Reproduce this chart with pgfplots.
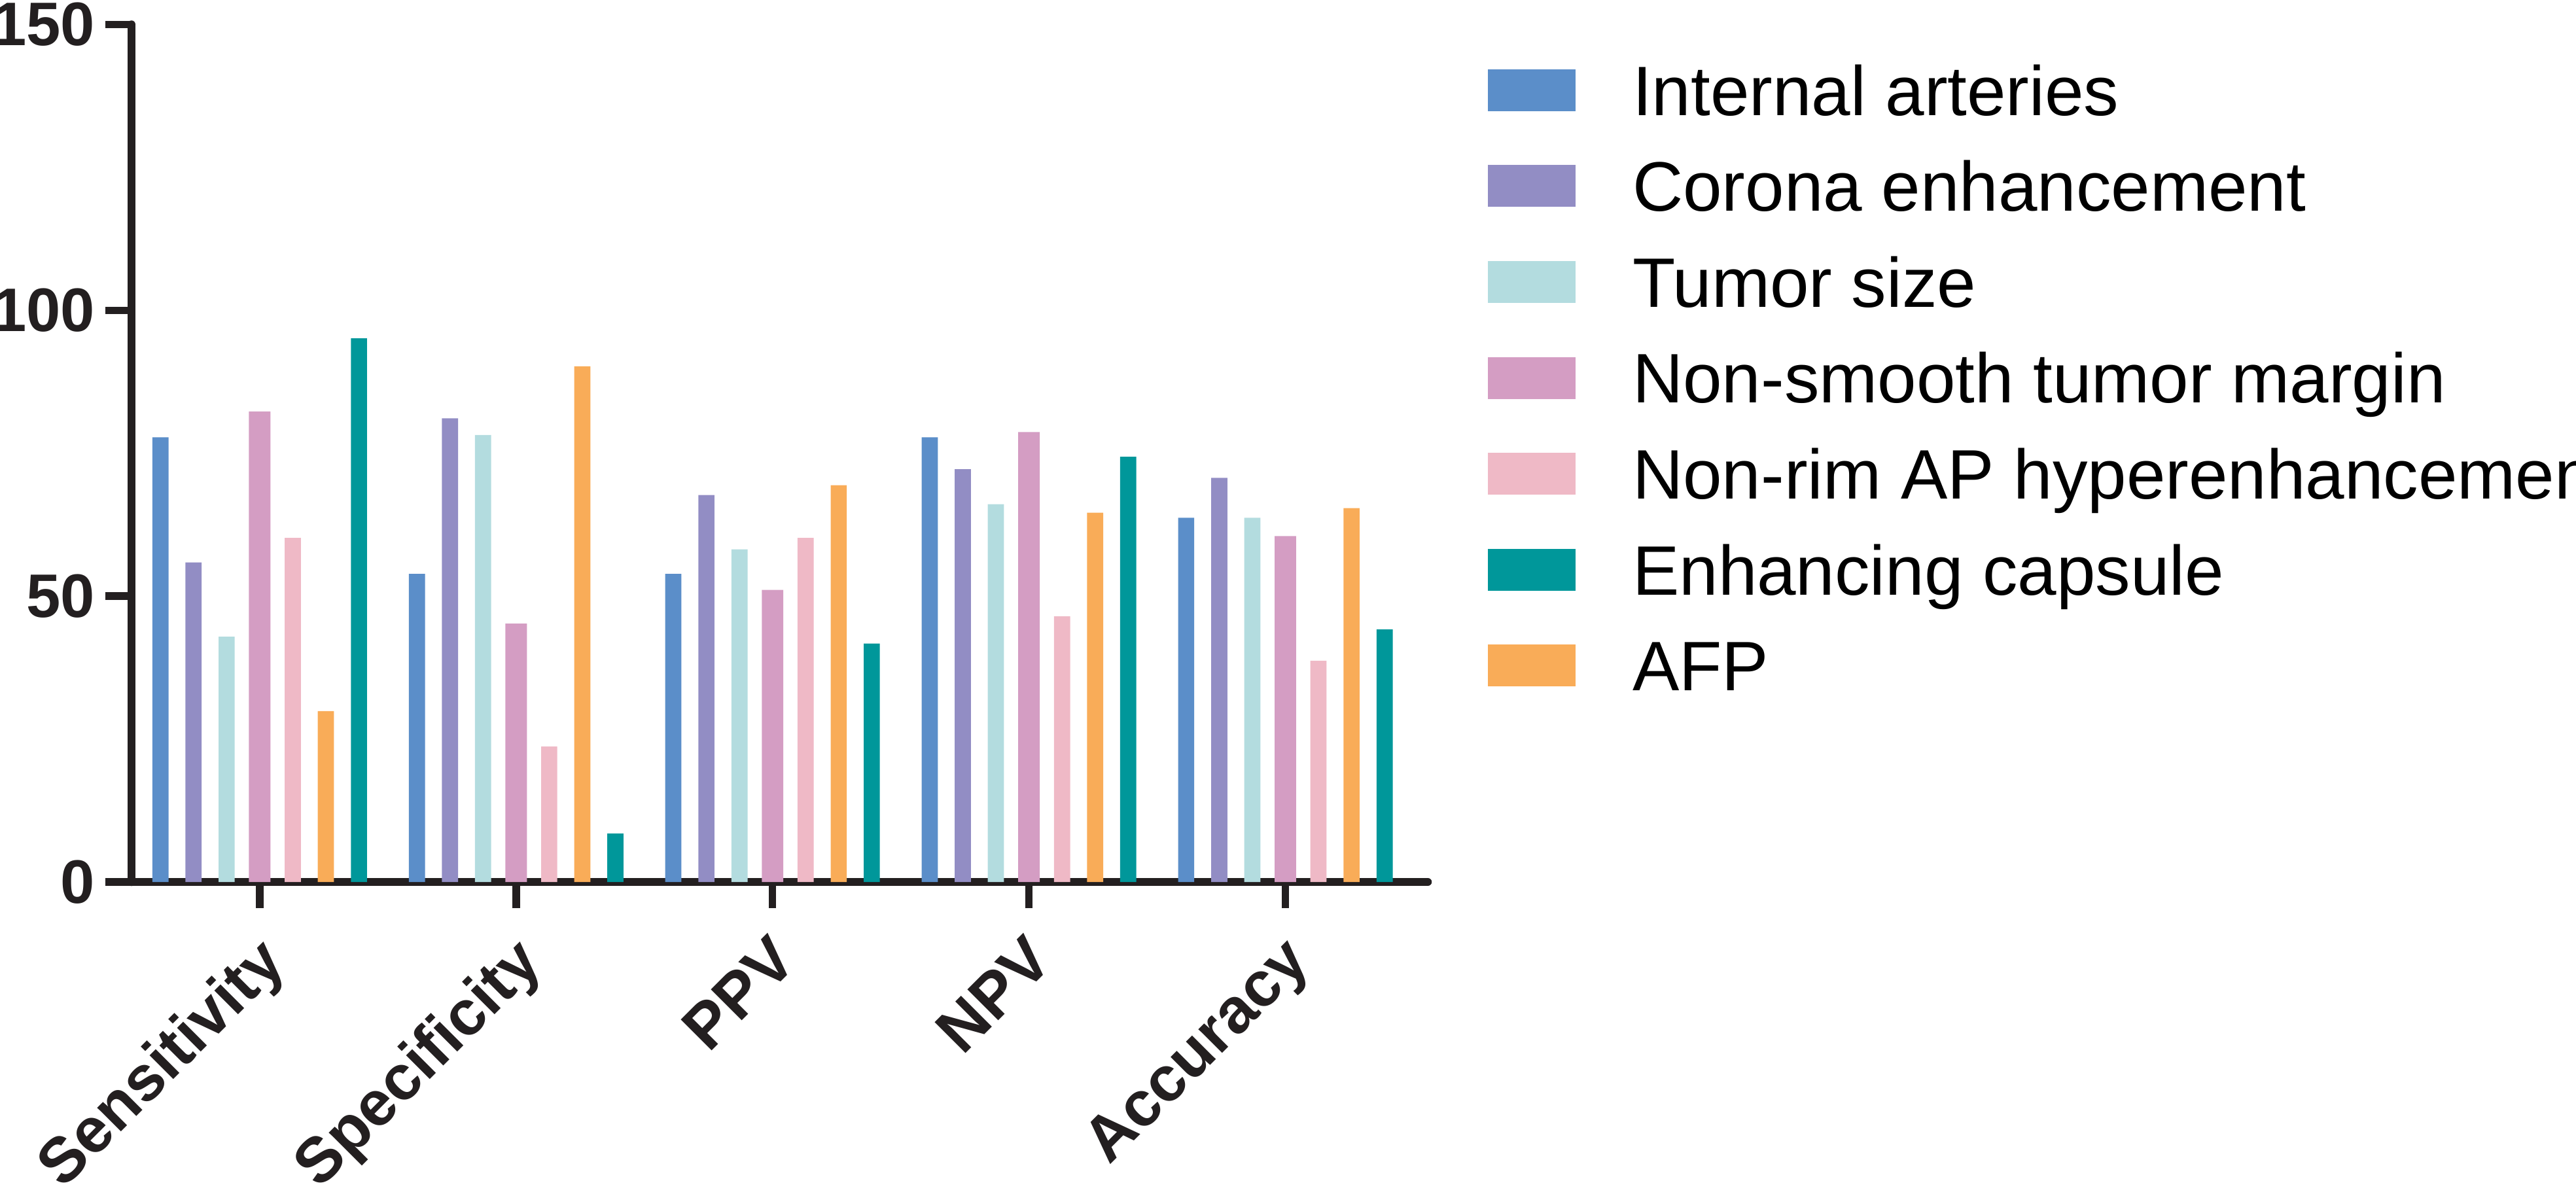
\documentclass[border=0pt]{standalone}
\usepackage{fontspec}
\setmainfont{Liberation Sans}
\usepackage{pgfplots}
\pgfplotsset{compat=1.18}
\definecolor{cIA}{HTML}{5B8EC9}
\definecolor{cCE}{HTML}{928DC4}
\definecolor{cTS}{HTML}{B3DCDF}
\definecolor{cNS}{HTML}{D49DC3}
\definecolor{cNR}{HTML}{EFB9C6}
\definecolor{cEC}{HTML}{00979A}
\definecolor{cAF}{HTML}{F9AC58}
\definecolor{axc}{HTML}{231F20}
\pgfplotsset{
  mybar/.style={ybar, draw=none, fill=#1, bar width=0.063,
    legend image code/.code={\fill[fill=#1] (0pt,-3.2pt) rectangle (13.4pt,3.2pt);}},
}
\begin{document}
\begin{tikzpicture}
\useasboundingbox (0,0) rectangle (393.7pt,182.7pt);
\clip (0,0) rectangle (393.7pt,182.7pt);
\begin{axis}[
  at={(20.1pt,47.9pt)}, anchor=south west,
  scale only axis, width=198.1pt, height=131.05pt,
  xmin=-0.5, xmax=4.555, ymin=0, ymax=150,
  axis lines=left,
  axis line style={-, line width=1.25pt, color=axc, line cap=round},
  tick style={line width=1.15pt, color=axc},
  major tick length=4pt, tick align=outside,
  xtick={0,1,2,3,4},
  xticklabels={Sensitivity,Specificity,PPV,NPV,Accuracy},
  ytick={0,50,100,150},
  /pgf/number format/assume math mode=true,
  xticklabel shift=2.8pt,
  xticklabel style={font=\fontsize{9.7}{10}\selectfont\bfseries, rotate=45, anchor=north east, inner sep=0pt, xshift=-1.0pt, color=axc},
  yticklabel style={font=\fontsize{9.4}{10}\selectfont\bfseries, anchor=east, inner sep=0pt, xshift=-1.4pt, color=axc},
  clip=false,
  legend style={at={(axis description cs:1.0465,0.9527)}, anchor=north west,
    draw=none, fill=none, inner sep=0pt, outer sep=0pt,
    row sep=7.0pt, column sep=8.7pt,
    font=\fontsize{10.7}{12}\selectfont,
    nodes={inner sep=0pt, text height=7.66pt, text depth=0pt}},
  legend cell align=left,
]
\addplot[mybar=cIA, bar shift=-0.387] coordinates {(0,77.8) (1,53.9) (2,53.9) (3,77.8) (4,63.7)};
\addlegendentry{Internal arteries}
\addplot[mybar=cCE, bar shift=-0.258] coordinates {(0,55.9) (1,81.1) (2,67.7) (3,72.2) (4,70.7)};
\addlegendentry{Corona enhancement}
\addplot[mybar=cTS, bar shift=-0.129] coordinates {(0,42.9) (1,78.2) (2,58.2) (3,66.1) (4,63.7)};
\addlegendentry{Tumor size}
\addplot[mybar=cNS, bar shift=0, bar width=0.084] coordinates {(0,82.3) (1,45.2) (2,51.1) (3,78.7) (4,60.5)};
\addlegendentry{Non-smooth tumor margin}
\addplot[mybar=cNR, bar shift=0.129] coordinates {(0,60.2) (1,23.7) (2,60.2) (3,46.5) (4,38.7)};
\addlegendentry{Non-rim AP hyperenhancement}
\addplot[mybar=cEC, bar shift=0.387] coordinates {(0,95.1) (1,8.5) (2,41.7) (3,74.4) (4,44.2)};
\addlegendentry{Enhancing capsule}
\addplot[mybar=cAF, bar shift=0.258] coordinates {(0,29.9) (1,90.2) (2,69.4) (3,64.6) (4,65.4)};
\addlegendentry{AFP}
\end{axis}
\end{tikzpicture}
\end{document}
